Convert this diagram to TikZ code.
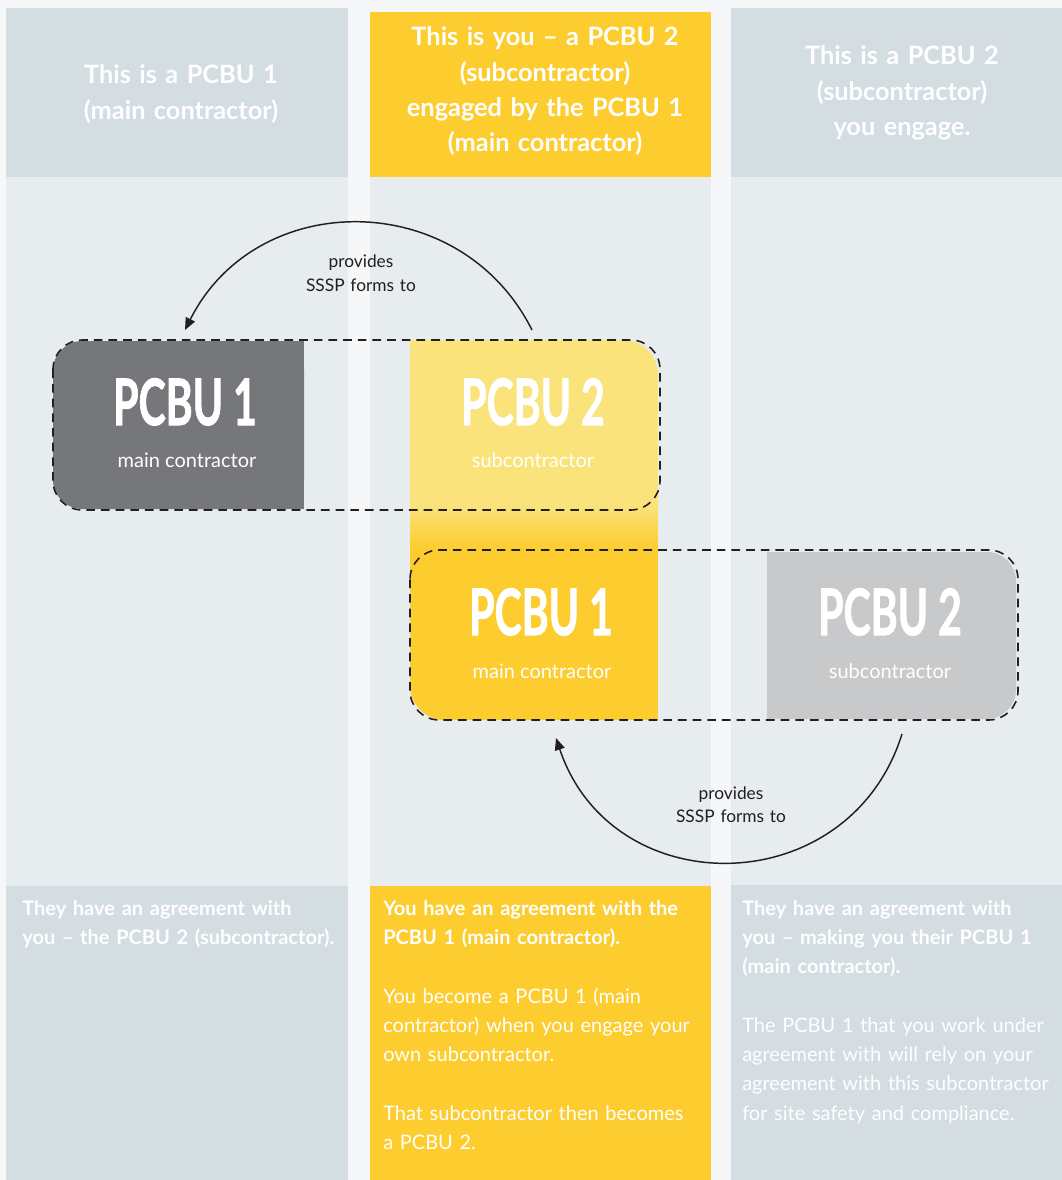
\documentclass[tikz,border=0pt]{standalone}
\usepackage{fontspec}
\usepackage{graphicx}
\setmainfont{Lato}
\newfontfamily\heavyfont{Lato}[BoldFeatures={FakeBold=1.6}]
\usetikzlibrary{arrows.meta}
\definecolor{pagebg}{HTML}{F5F7F9}
\definecolor{hdrgray}{HTML}{D3DDE2}
\definecolor{bodybg}{HTML}{E7ECEF}
\definecolor{ylw}{HTML}{FDCC2E}
\definecolor{ltylw}{HTML}{FAE37A}
\definecolor{dkgray}{HTML}{76777B}
\definecolor{ltgray}{HTML}{C8C9CB}
\definecolor{ink}{HTML}{231F20}
\newcommand{\cond}[1]{\scalebox{0.64}[1]{#1}}
\begin{document}
\begin{tikzpicture}[x=0.75pt,y=-0.75pt,
  hdr/.style={text=white,font=\fontsize{19}{26.5}\selectfont\bfseries,align=center,text width=250pt,inner sep=0pt,anchor=base},
  bodytxt/.style={text=white,font=\fontsize{15}{22}\selectfont,align=left,text width=250pt,inner sep=0pt,anchor=base west},
  boldtxt/.style={bodytxt,font=\fontsize{15}{22}\selectfont\bfseries},
  big/.style={text=white,font=\fontsize{48}{48}\selectfont\heavyfont\bfseries,inner sep=0pt,anchor=base},
  sub/.style={text=white,font=\fontsize{15}{18}\selectfont,inner sep=0pt,anchor=base},
  lbl/.style={text=ink,font=\fontsize{13}{17.25}\selectfont,align=center,text width=120pt,inner sep=0pt,anchor=base},
  dashbox/.style={draw=ink,line width=1.2pt,dash pattern=on 6.5pt off 4.5pt,rounded corners=22pt},
  conn/.style={draw=ink,line width=1.1pt,-{Triangle[length=9pt,width=7.5pt]}}
]
\useasboundingbox (0,0) rectangle (1062,1180);
\fill[pagebg] (0,0) rectangle (1062,1180);
% columns
\fill[hdrgray] (6,8) rectangle (348,177);
\fill[bodybg] (6,177) rectangle (348,886);
\fill[hdrgray] (6,886) rectangle (348,1180);
\fill[ylw] (370,12) rectangle (711,177);
\fill[bodybg] (370,177) rectangle (711,886);
\fill[ylw] (370,886) rectangle (711,1180);
\fill[hdrgray] (731,8) rectangle (1062,177);
\fill[bodybg] (731,177) rectangle (1062,885);
\fill[hdrgray] (731,885) rectangle (1062,1180);
% headers
\node[hdr] (h1) at (181,84) {This is a PCBU 1\\(main contractor)};
\node[hdr] (h2) at (545,46) {This is you -- a PCBU 2\\(subcontractor)\\engaged by the PCBU 1\\(main contractor)};
\node[hdr] (h3) at (902,65) {This is a PCBU 2\\(subcontractor)\\you engage.};
% upper PCBU 1 box (dark gray)
\fill[dkgray,rounded corners=22pt] (53,341) rectangle (304,509);
\fill[dkgray] (180,341) rectangle (304,509);
% middle yellow column of boxes
\begin{scope}
  \clip[rounded corners=26pt] (410,340) rectangle (658,720);
  \fill[ltylw] (410,340) rectangle (658,506);
  \shade[top color=ltylw,bottom color=ylw] (410,505) rectangle (658,549);
  \fill[ylw] (410,548) rectangle (658,720);
\end{scope}
\fill[ltylw] (410,340) rectangle (460,390);
\fill[ylw] (610,670) rectangle (658,720);
% lower PCBU 2 box (light gray)
\fill[ltgray,rounded corners=22pt] (767,552) rectangle (1016,719);
\fill[ltgray] (767,552) rectangle (880,719);
% dashed groups
\draw[dashbox] (53,340) rectangle (660,510);
\draw[dashbox] (410,550) rectangle (1018,720);
% box texts
\node[big] (p1a) at (185,425) {\cond{PCBU 1}};
\node[sub] (p1as) at (187,467) {main contractor};
\node[big] (p2a) at (533,425) {\cond{PCBU 2}};
\node[sub] (p2as) at (533,467) {subcontractor};
\node[big] (p1b) at (541,635) {\cond{PCBU 1}};
\node[sub] (p1bs) at (542,678) {main contractor};
\node[big] (p2b) at (890,635) {\cond{PCBU 2}};
\node[sub] (p2bs) at (890,678) {subcontractor};
% connectors
\coordinate (u1) at (532,330);
\coordinate (u2) at (185,330);
\coordinate (d1) at (902,734);
\coordinate (d2) at (556,738);
\draw[conn] (u1) .. controls (460.5,187.4) and (256.5,187.4) .. (u2);
\draw[conn] (d1) .. controls (849.4,902.5) and (612,905.2) .. (d2);
\node[lbl] (l1) at (361,268) {provides\\SSSP forms to};
\node[lbl] (l2) at (731,799) {provides\\SSSP forms to};
% bottom texts
\node[boldtxt] (b1) at (22,915) {They have an agreement with\\you -- the PCBU 2 (subcontractor).};
\node[boldtxt] (b2) at (383,915) {You have an agreement with the\\PCBU 1 (main contractor).};
\node[bodytxt] (b2r) at (383,1003) {You become a PCBU 1 (main\\contractor) when you engage your\\own subcontractor.\\[22pt]That subcontractor then becomes\\a PCBU 2.};
\node[boldtxt] (b3) at (742,915) {They have an agreement with\\you -- making you their PCBU 1\\(main contractor).};
\node[bodytxt] (b3r) at (742,1032) {The PCBU 1 that you work under\\agreement with will rely on your\\agreement with this subcontractor\\for site safety and compliance.};
\end{tikzpicture}
\end{document}
